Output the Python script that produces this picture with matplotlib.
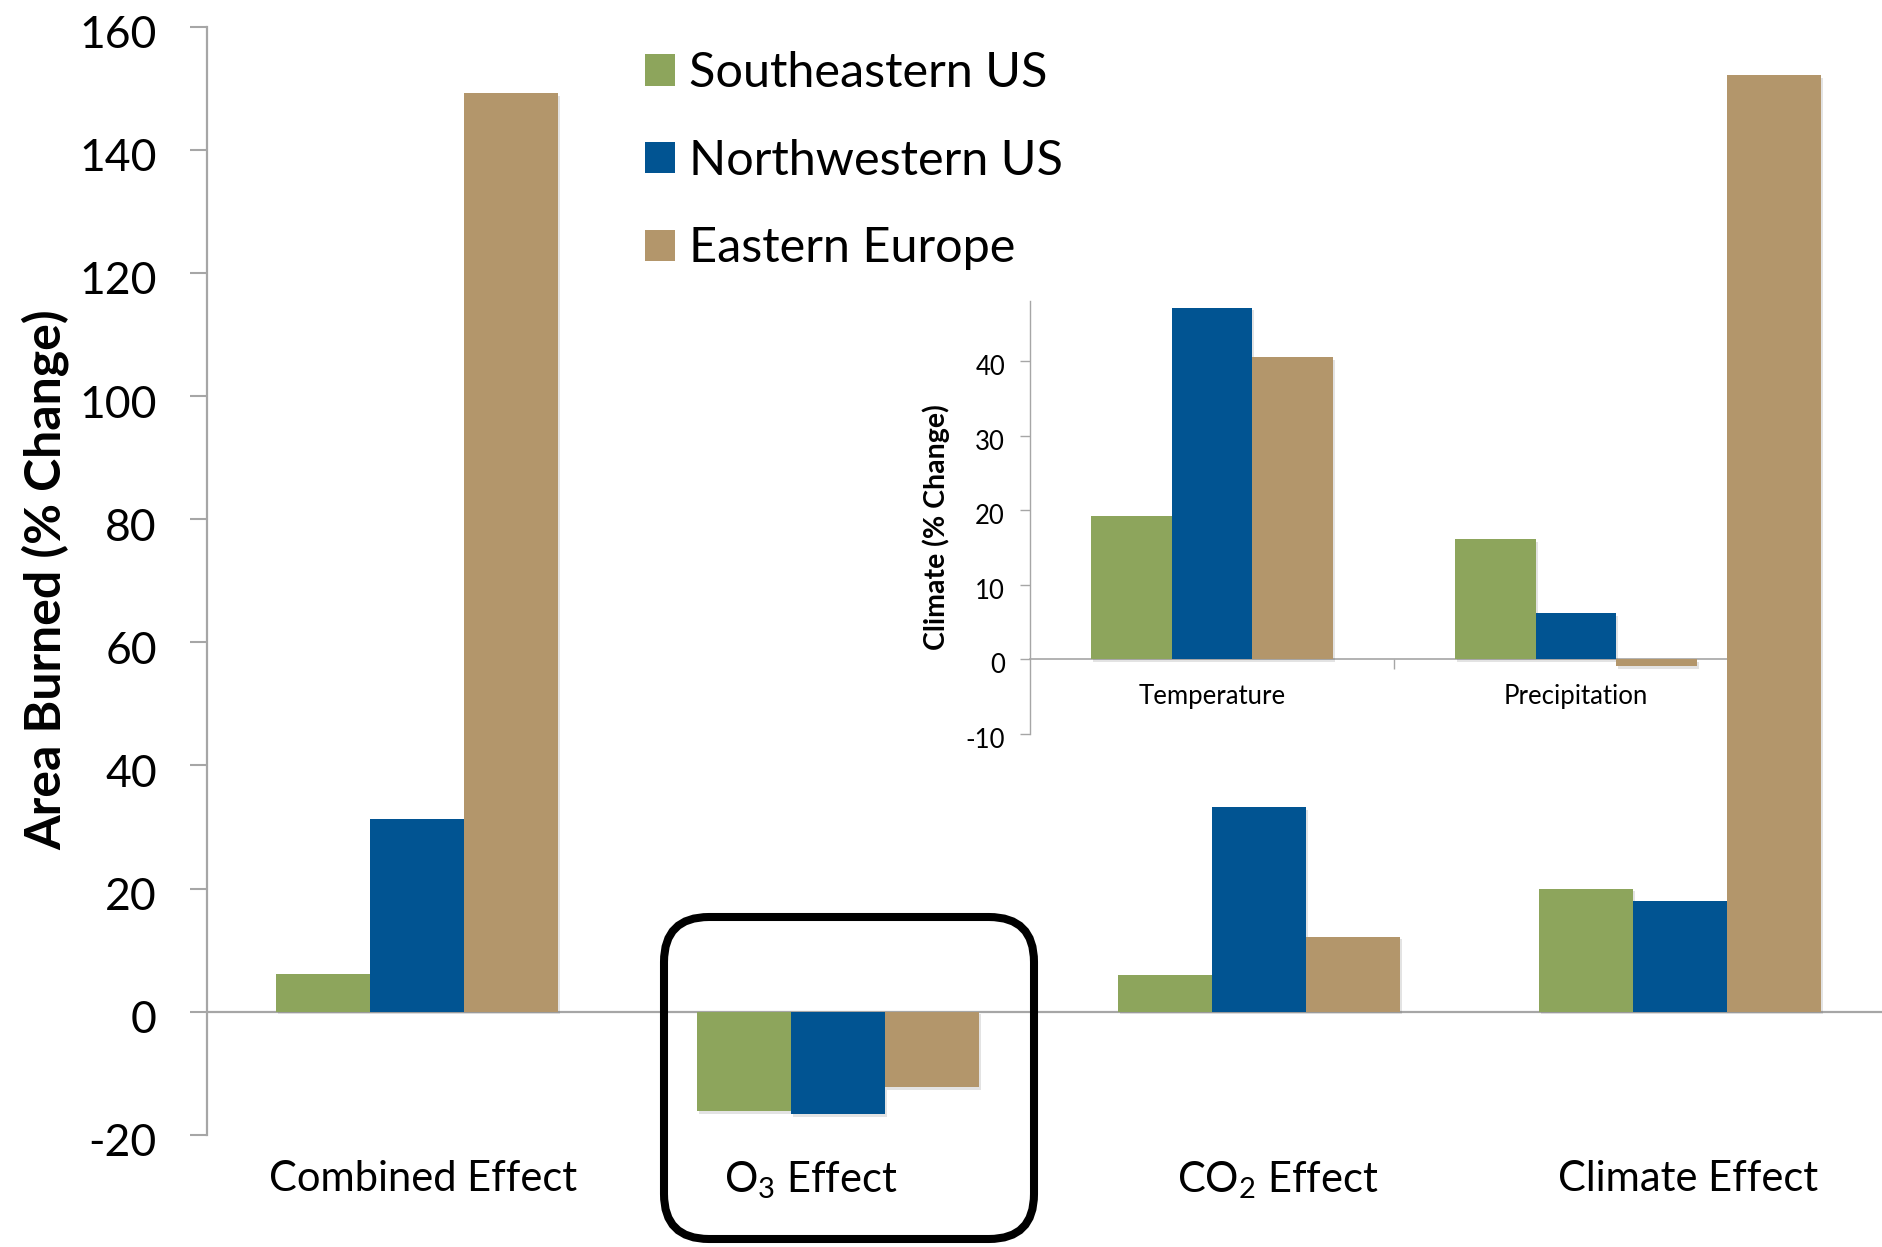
import matplotlib
matplotlib.use("Agg")
import matplotlib.pyplot as plt
import numpy as np
from matplotlib.patches import FancyBboxPatch, Patch
from matplotlib import patheffects as pe
from matplotlib.transforms import ScaledTranslation

plt.rcParams['font.family'] = ['Lato', 'DejaVu Sans']
plt.rcParams['mathtext.fontset'] = 'custom'
plt.rcParams['mathtext.rm'] = 'Lato'
plt.rcParams['mathtext.it'] = 'Lato:italic'
plt.rcParams['mathtext.bf'] = 'Lato:bold'
plt.rcParams['axes.unicode_minus'] = False

# ---- data -------------------------------------------------------------
effects = ["Combined Effect", "O$_3$ Effect", "CO$_2$ Effect", "Climate Effect"]
regions = ["Southeastern US", "Northwestern US", "Eastern Europe"]
southeastern_us = [6.2, -16.1, 5.9, 20.0]
northwestern_us = [31.3, -16.6, 33.2, 18.0]
eastern_europe = [149.2, -12.2, 12.2, 152.1]
main_yticks = [-20, 0, 20, 40, 60, 80, 100, 120, 140, 160]

climate_factors = ["Temperature", "Precipitation"]
climate_southeastern_us = [19.3, 16.1]
climate_northwestern_us = [47.2, 6.2]
climate_eastern_europe = [40.6, -0.9]
inset_yticks = [-10, 0, 10, 20, 30, 40]

colors = ["#8DA55C", "#015492", "#B3966B"]
axis_gray = "#A6A6A6"

# ---- figure -----------------------------------------------------------
W, H = 1883, 1247
fig = plt.figure(figsize=(W / 100, H / 100), dpi=100)
fig.patch.set_facecolor("white")

shadow = [pe.SimplePatchShadow(offset=(1.5, -2.0), shadow_rgbFace="0.4", alpha=0.18),
          pe.Normal()]
label_drop = ScaledTranslation(0, -5 / 100, fig.dpi_scale_trans)

# main axes
ax_left, ax_right = 207, 1890
ax = fig.add_axes([ax_left / W, (H - 1134.8) / H, (ax_right - ax_left) / W,
                   (1134.8 - 26.7) / H])
ax.set_zorder(3)
ax.patch.set_alpha(0)

bar_w = 0.2234
x = np.arange(len(effects))
series = [southeastern_us, northwestern_us, eastern_europe]
for k, (vals, col) in enumerate(zip(series, colors)):
    bars = ax.bar(x + (k - 1) * bar_w, vals, width=bar_w, color=col,
                  linewidth=0, zorder=3)
    for b in bars:
        b.set_path_effects(shadow)

ax.set_xlim(-0.5, 3.5)
ax.set_ylim(-20, 160)
ax.set_yticks(main_yticks)
ax.tick_params(axis="y", direction="out", length=12, width=1.5, color=axis_gray,
               labelsize=32, pad=24)
for lbl in ax.get_yticklabels():
    lbl.set_transform(lbl.get_transform() + label_drop)
ax.axhline(0, color=axis_gray, linewidth=1.6, zorder=2)
for s in ["top", "right", "bottom"]:
    ax.spines[s].set_visible(False)
ax.spines["left"].set_color(axis_gray)
ax.spines["left"].set_linewidth(1.6)

# category labels, slightly shifted like the hand-placed originals
label_shift = [0.014, -0.065, 0.046, 0.021]
ax.set_xticks(x + np.array(label_shift))
ax.set_xticklabels(effects, fontsize=30)
ax.tick_params(axis="x", length=0, pad=18)

ax.set_ylabel("Area Burned (% Change)", fontsize=36, fontweight="bold")
ax.yaxis.set_label_coords((45 - ax_left) / (ax_right - ax_left), 0.5007)
ax.yaxis.label.set_va("center")

handles = [Patch(facecolor=c, edgecolor="none") for c in colors]
leg = ax.legend(handles, regions, loc="upper left",
                bbox_to_anchor=(645 / W, 1 - 51 / H), bbox_transform=fig.transFigure,
                frameon=False, fontsize=35, handlelength=0.62, handleheight=0.62,
                handletextpad=0.29, labelspacing=0.9, borderpad=0, borderaxespad=0)

# ---- inset: climate drivers ------------------------------------------
ins = fig.add_axes([1030 / W, (H - 734) / H, 728 / W, (734 - 301) / H])
ins.set_zorder(2)
ins.patch.set_alpha(0)
xi = np.arange(len(climate_factors))
inset_series = [climate_southeastern_us, climate_northwestern_us, climate_eastern_europe]
for k, (vals, col) in enumerate(zip(inset_series, colors)):
    bars = ins.bar(xi + (k - 1) * 0.222, vals, width=0.222, color=col,
                   linewidth=0, zorder=3)
    for b in bars:
        b.set_path_effects(shadow)
ins.set_xlim(-0.5, 1.5)
ins.set_ylim(-10, 48.1)
ins.set_yticks(inset_yticks)
ins.tick_params(axis="y", direction="out", length=7, width=1.0, color=axis_gray,
                labelsize=18.5, pad=11)
for lbl in ins.get_yticklabels():
    lbl.set_transform(lbl.get_transform() + ScaledTranslation(0, -4 / 100, fig.dpi_scale_trans))
for s in ["top", "right"]:
    ins.spines[s].set_visible(False)
ins.spines["left"].set_color(axis_gray)
ins.spines["left"].set_linewidth(1.0)
ins.spines["bottom"].set_position(("data", 0))
ins.spines["bottom"].set_color(axis_gray)
ins.spines["bottom"].set_linewidth(1.2)
ins.set_xticks(xi)
ins.set_xticklabels(climate_factors, fontsize=18.5)
ins.set_xticks([0.5], minor=True)
ins.tick_params(axis="x", which="major", length=0, pad=18)
ins.tick_params(axis="x", which="minor", direction="out", length=7, width=1.0,
                color=axis_gray)
ins.set_ylabel("Climate (% Change)", fontsize=20.5, fontweight="bold")
ins.yaxis.set_label_coords(-0.129, 0.477)
ins.yaxis.label.set_va("center")

# ---- rounded box highlighting the ozone effect -------------------------
box = FancyBboxPatch((6.64, 0.08), 3.70, 3.22,
                     boxstyle="round,pad=0,rounding_size=0.45",
                     transform=fig.dpi_scale_trans, facecolor="none",
                     edgecolor="black", linewidth=5.8, zorder=10)
fig.add_artist(box)

fig.savefig("out.png", dpi=100)
